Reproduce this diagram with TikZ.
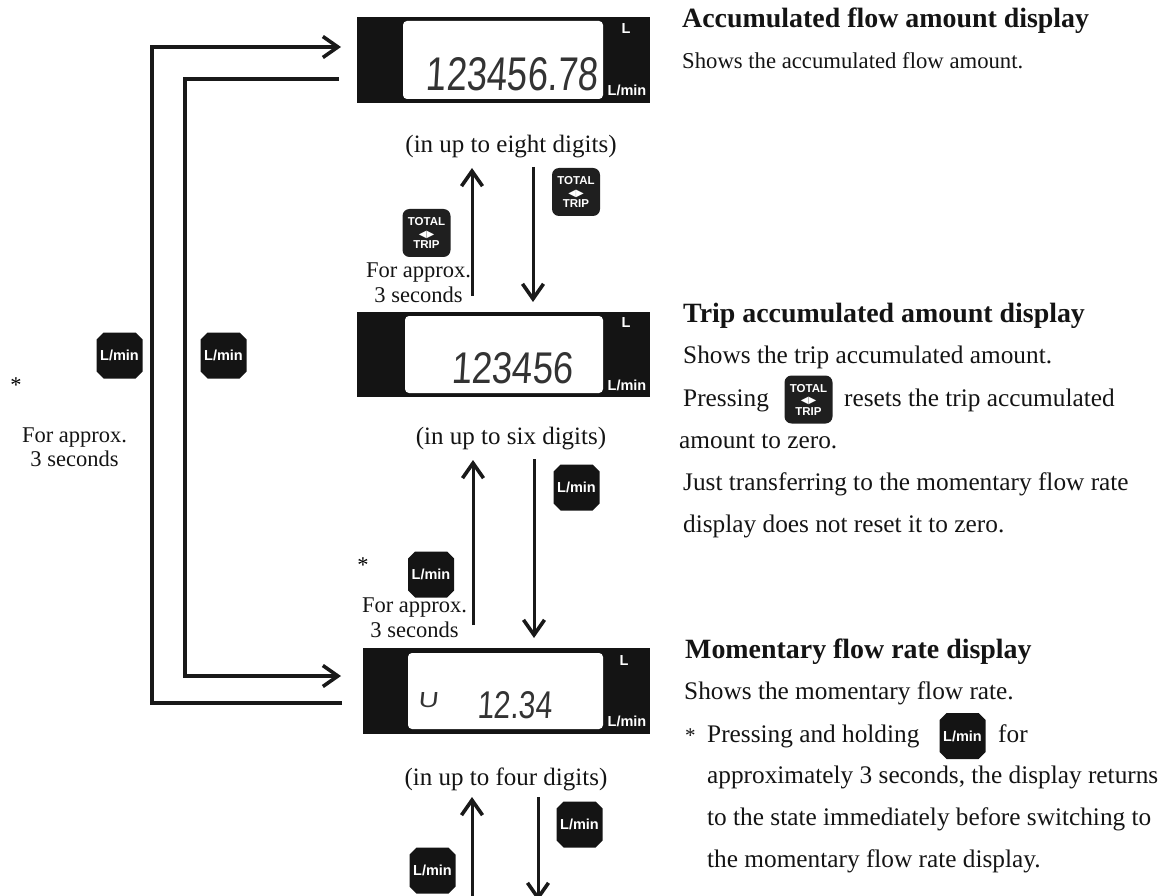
\documentclass[tikz,border=0pt]{standalone}
\usepackage{fontspec}
\setmainfont{Liberation Serif}
\newfontfamily\lsans{Liberation Sans}
\newfontfamily\lcdfont[FakeSlant=0.08]{Liberation Sans}
\newfontfamily\djv{DejaVu Sans}
\usetikzlibrary{arrows.meta,shapes.misc}
\newcommand{\fhead}{\fontsize{27.9}{32}\bfseries\selectfont}
\newcommand{\fbig}{\fontsize{25.3}{30}\selectfont}
\newcommand{\fcap}{\fontsize{25}{30}\selectfont}
\newcommand{\fmid}{\fontsize{22.5}{24.5}\selectfont}
\newcommand{\fsmall}{\fontsize{22.7}{24}\selectfont}
\newcommand{\fstar}{\fontsize{21}{24}\selectfont}
\tikzset{
  conn/.style={line width=3.5pt,draw=black!90},
  barb/.style={-{Straight Barb[length=15pt,width=21pt,line width=3.6pt]}},
  disp/.style={fill=black!92,inner sep=0pt,outer sep=0pt,draw=none},
  win/.style={fill=white,rounded corners=4pt,inner sep=0pt,outer sep=0pt,draw=none},
  lcd/.style={inner sep=0pt,outer sep=0pt,text=black!80},
  unitL/.style={inner sep=0pt,text=white,font=\lsans\bfseries\fontsize{14.5}{14.5}\selectfont},
  tx/.style={anchor=base west,inner sep=0pt,text=black!92,font=\fbig},
  captxt/.style={anchor=base,inner sep=0pt,text=black!92,font=\fcap},
  hold/.style={anchor=center,inner sep=0pt,align=center,text=black!92,font=\fmid},
  lmin/.style={chamfered rectangle,chamfered rectangle xsep=3.5pt,chamfered rectangle ysep=3.5pt,fill=black!92,
    inner sep=0pt,minimum width=46pt,minimum height=46pt,text=white,
    font=\lsans\bfseries\fontsize{14.5}{14.5}\selectfont},
  ttrip/.style={rounded corners=7pt,fill=black!88,inner sep=0pt,minimum width=48pt,minimum height=48pt,
    text=white,align=center,font=\lsans\bfseries\fontsize{11.5}{11.5}\selectfont},
}
\newcommand{\ttlabel}{TOTAL\\{\djv\fontsize{10}{11.5}\selectfont ◀▶}\\TRIP}
\begin{document}
\begin{tikzpicture}[x=1pt,y=-1pt]
\useasboundingbox (0,0) rectangle (1168,896);
\clip (0,0) rectangle (1168,896);

% displays
\node[disp,minimum width=293pt,minimum height=86pt] (d1) at (503.5,60) {};
\node[win,minimum width=200pt,minimum height=78pt] (w1) at (503,60) {};
\node[lcd] (n1) at (512,74) {\resizebox{172pt}{33pt}{\lcdfont 123456.78}};
\node[unitL] (a1) at (626,29) {L};
\node[unitL] (b1) at (627,90) {L/min};

\node[disp,minimum width=293pt,minimum height=85pt] (d2) at (503.5,354.5) {};
\node[win,minimum width=198pt,minimum height=77pt] (w2) at (504,354.5) {};
\node[lcd] (n2) at (512,368.5) {\resizebox{122pt}{31pt}{\lcdfont 123456}};
\node[unitL] (a2) at (626,323) {L};
\node[unitL] (b2) at (627,385) {L/min};

\node[disp,minimum width=287pt,minimum height=86pt] (d3) at (506.5,691) {};
\node[win,minimum width=195pt,minimum height=76pt] (w3) at (505.5,691) {};
\node[lcd] (n3) at (514.5,705.5) {\resizebox{75pt}{27pt}{\lcdfont 12.34}};
\node[lcd] (u3) at (428,700.5) {\resizebox{20pt}{15pt}{\lcdfont U}};
\node[unitL] (a3) at (624,661) {L};
\node[unitL] (b3) at (627,721) {L/min};

% captions
\node[captxt] (c1) at (511,153) {(in up to eight digits)};
\node[captxt] (c2) at (511,444) {(in up to six digits)};
\node[captxt] (c3) at (506,785) {(in up to four digits)};

% long connectors
\coordinate (oa) at (152,47);
\coordinate (ob) at (152,703);
\coordinate (ia) at (185,79);
\coordinate (ib) at (185,676);
\draw[conn,barb,shorten <=21pt,shorten >=16pt,line join=miter] (ob -| d3.west) -- (ob) -- (oa) -- (oa -| d1.west);
\draw[conn,barb,shorten <=18pt,shorten >=22pt,line join=miter] (ia -| d1.west) -- (ia) -- (ib) -- (ib -| d3.west);

% vertical connectors
\coordinate (x1) at (472,0);
\coordinate (x2) at (533,0);
\coordinate (x3) at (473,0);
\coordinate (x4) at (534,0);
\coordinate (e5) at (472,915);
\coordinate (e6) at (538,901);
\draw[conn,line width=3pt,barb,shorten <=16pt,shorten >=65pt] (x1 |- d2.north) -- (x1 |- d1.south);
\draw[conn,line width=3pt,barb,shorten <=64pt,shorten >=10pt] (x2 |- d1.south) -- (x2 |- d2.north);
\draw[conn,line width=3pt,barb,shorten <=23pt,shorten >=63pt] (x3 |- d3.north) -- (x3 |- d2.south);
\draw[conn,line width=3pt,barb,shorten <=62pt,shorten >=10pt] (x4 |- d2.south) -- (x4 |- d3.north);
\draw[conn,line width=3pt,barb,shorten >=63pt] (e5) -- (e5 |- d3.south);
\draw[conn,line width=3pt,barb,shorten <=63pt] (e6 |- d3.south) -- (e6);

% buttons
\node[ttrip] (t1) at (576,192) {\ttlabel};
\node[ttrip] (t2) at (426.5,233) {\ttlabel};
\node[ttrip] (t3) at (808.5,399.5) {\ttlabel};
\node[lmin] (m1) at (119.5,355.5) {L/min};
\node[lmin] (m2) at (223.5,355.5) {L/min};
\node[lmin] (m3) at (576.5,487.5) {L/min};
\node[lmin] (m4) at (431,574.5) {L/min};
\node[lmin] (m5) at (579.5,824.5) {L/min};
\node[lmin] (m6) at (432.5,870.5) {L/min};
\node[lmin] (m7) at (962.5,736) {L/min};

% hold labels
\node[hold] (h1) at (418.5,282.5) {For approx.\\3 seconds};
\node[hold] (h2) at (414.5,617.5) {For approx.\\3 seconds};
\node[hold] (h3) at (74.5,447) {For approx.\\3 seconds};
\node[anchor=base,inner sep=0pt,font=\fmid] (s1) at (16,392) {*};
\node[anchor=base,inner sep=0pt,font=\fmid] (s2) at (363,572) {*};

% right column
\node[tx,font=\fhead] (p1) at (682,28) {Accumulated flow amount display};
\node[tx,font=\fsmall] (p2) at (682,69) {Shows the accumulated flow amount.};

\node[tx,font=\fhead] (q1) at (683,323) {Trip accumulated amount display};
\node[tx] (q2) at (683,363) {Shows the trip accumulated amount.};
\node[tx] (q3) at (683,406) {Pressing};
\node[tx] (q4) at (844,406) {resets the trip accumulated};
\node[tx] (q5) at (679,448) {amount to zero.};
\node[tx] (q6) at (683,490) {Just transferring to the momentary flow rate};
\node[tx] (q7) at (683,532) {display does not reset it to zero.};

\node[tx,font=\fhead] (r1) at (685,658) {Momentary flow rate display};
\node[tx] (r2) at (684,699) {Shows the momentary flow rate.};
\node[tx,font=\fstar] (r3) at (685,742) {*};
\node[tx] (r4) at (707,742) {Pressing and holding};
\node[tx] (r5) at (998,742) {for};
\node[tx] (r6) at (707,783) {approximately 3 seconds, the display returns};
\node[tx] (r7) at (707,825) {to the state immediately before switching to};
\node[tx] (r8) at (707,867) {the momentary flow rate display.};
\end{tikzpicture}
\end{document}
